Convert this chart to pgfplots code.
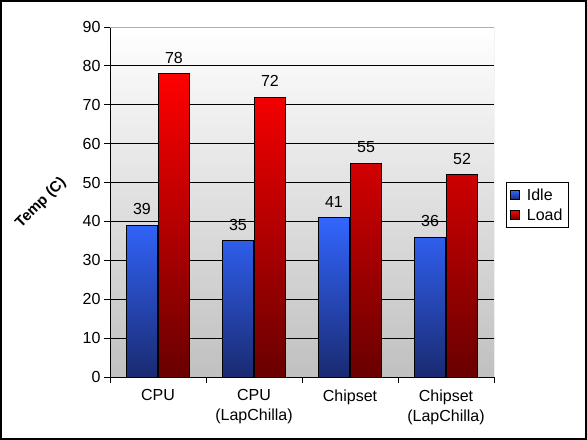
\documentclass[border=0pt]{standalone}
\usepackage{pgfplots}
\pgfplotsset{compat=1.18}
\usepackage{fontspec}
\setmainfont{Liberation Sans}
\definecolor{bluetop}{RGB}{51,102,255}
\definecolor{bluebot}{RGB}{25,42,112}
\definecolor{redtop}{RGB}{255,0,0}
\definecolor{redbot}{RGB}{105,0,0}
\definecolor{bggray}{RGB}{192,192,192}
\definecolor{bordergray}{RGB}{175,175,175}
\newcommand{\chartfont}{\fontsize{16bp}{20bp}\selectfont}
\begin{document}
\begin{tikzpicture}[font=\chartfont]
\path[use as bounding box] (0,0) rectangle (587bp,440bp);
\fill[white] (0,0) rectangle (587bp,440bp);
\draw[line width=2bp] (1bp,1bp) rectangle (586bp,439bp);
\begin{axis}[
  at={(110bp,63bp)}, anchor=south west,
  scale only axis, width=384bp, height=350bp,
  xmin=-0.5, xmax=3.5, ymin=0, ymax=90,
  axis x line*=bottom, axis y line*=left,
  axis line style={-, black, line width=0.8bp},
  xtick={0,1,2,3},
  xticklabels={CPU, {CPU\\(LapChilla)}, Chipset, {Chipset\\(LapChilla)}},
  xticklabel style={align=center, font=\chartfont, yshift=-3bp},
  yticklabel style={font=\chartfont},
  major x tick style={draw=none},
  minor xtick={-0.5,0.5,1.5,2.5,3.5},
  minor x tick style={black, line width=0.8bp},
  ytick={0,10,...,90},
  tick align=outside,
  major tick length=6bp, minor tick length=6bp,
  ytick style={black, line width=0.8bp},
  ymajorgrids, grid style={black, line width=0.8bp},
  /pgf/number format/assume math mode=true,
  axis background/.style={top color=white, bottom color=bggray},
  ybar, bar width=31bp,
  nodes near coords,
  every node near coord/.append style={font=\chartfont, anchor=south, inner sep=0pt, yshift=10bp, black},
  legend style={at={(1.03125,0.557)}, anchor=north west, draw=black, line width=0.8bp,
    font=\chartfont, inner xsep=4bp, inner ysep=4bp, row sep=3bp,
    /tikz/every odd column/.append style={column sep=5bp}},
  legend cell align=left,
  legend image code/.code={\draw[#1, draw=black, line width=0.5bp] (0bp,-4.5bp) rectangle (9bp,4.5bp);},
]
\addplot[draw=black, line width=0.8bp, top color=bluetop, bottom color=bluebot, bar shift=-16bp]
  coordinates {(0,39) (1,35) (2,41) (3,36)};
\addplot[draw=black, line width=0.8bp, top color=redtop, bottom color=redbot, bar shift=16bp]
  coordinates {(0,78) (1,72) (2,55) (3,52)};
\legend{Idle\hspace{4bp}, Load\hspace{4bp}}
\draw[bordergray, line width=0.8bp] (rel axis cs:0,1) -- (rel axis cs:1,1) -- (rel axis cs:1,0);
\end{axis}
\node[rotate=45, font=\fontsize{15bp}{18bp}\selectfont\bfseries] at (41bp,237bp) {Temp (C)};
\end{tikzpicture}
\end{document}
